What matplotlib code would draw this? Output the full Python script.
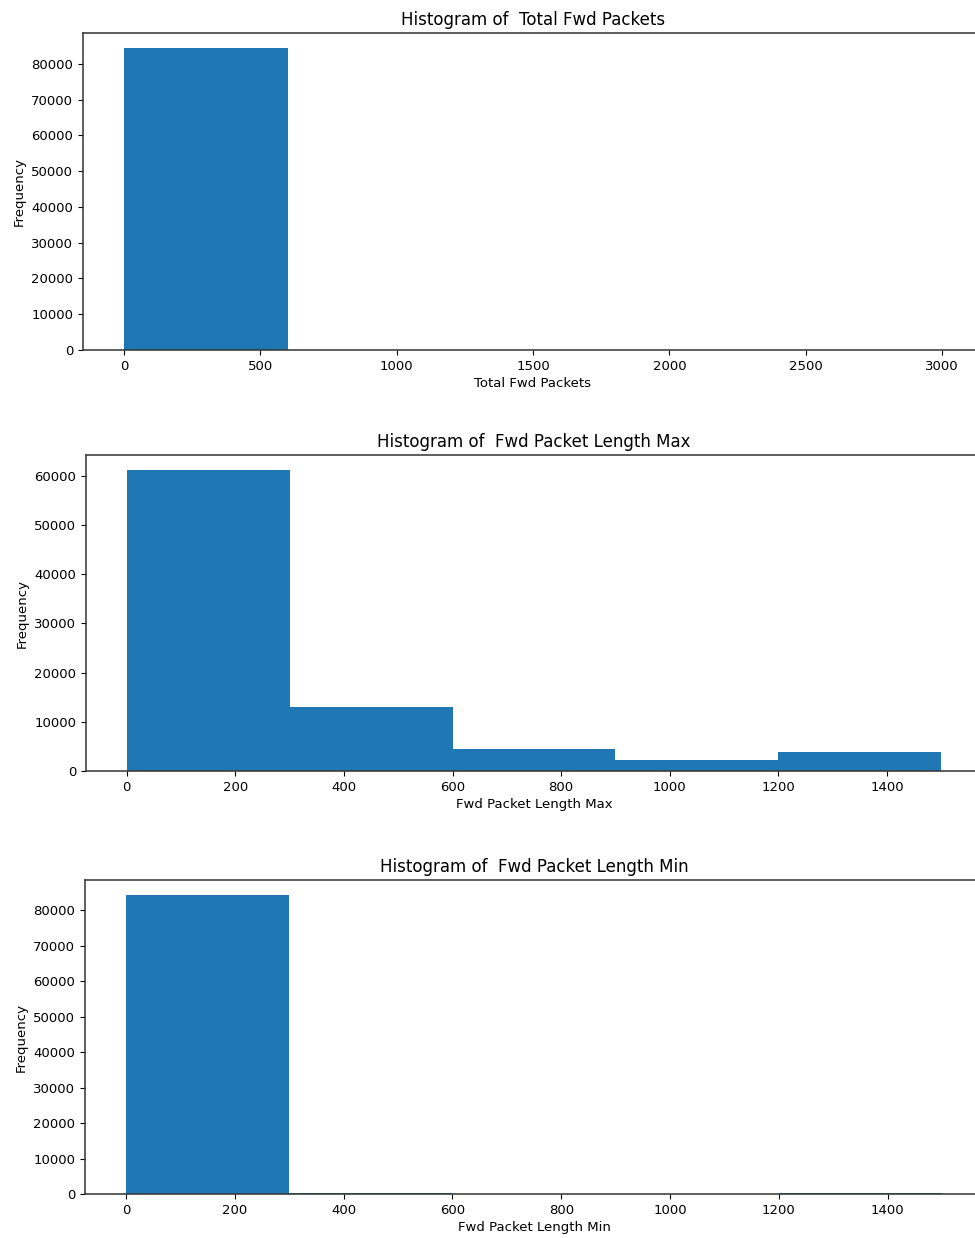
import matplotlib
matplotlib.use("Agg")
import matplotlib.pyplot as plt

# Bin edges and counts for each feature
total_fwd_edges = [0, 600, 1200, 1800, 2400, 3000]
total_fwd_counts = [84400, 40, 10, 4, 3]

fwd_max_edges = [0, 300, 600, 900, 1200, 1500]
fwd_max_counts = [61200, 13050, 4400, 2250, 3900]

fwd_min_edges = [0, 300, 600, 900, 1200, 1500]
fwd_min_counts = [84250, 220, 90, 0, 200]

features = ["Total Fwd Packets", "Fwd Packet Length Max", "Fwd Packet Length Min"]

W, H = 975, 1238
fig = plt.figure(figsize=(W / 100, H / 100), dpi=100)

# axes boxes in pixels: left, top, right, bottom
boxes = [
    (83, 33, 983, 350),
    (86, 455, 982, 771),
    (85, 880, 983, 1194),
]
data = [
    (total_fwd_edges, total_fwd_counts),
    (fwd_max_edges, fwd_max_counts),
    (fwd_min_edges, fwd_min_counts),
]

for (l, t, r, b), (edges, counts), name in zip(boxes, data, features):
    ax = fig.add_axes([l / W, (H - b) / H, (r - l) / W, (b - t) / H])
    ax.hist(edges[:-1], bins=edges, weights=counts, color="#1f77b4")
    ax.set_title(f"Histogram of  {name}", fontsize=12, pad=6)
    ax.set_xlabel(name, fontsize=9.5, labelpad=3)
    ax.set_ylabel("Frequency", fontsize=9.5)
    ax.tick_params(labelsize=9.5)
    for s in ax.spines.values():
        s.set_color("#333333")
        s.set_linewidth(1.1)

fig.savefig("out.png", dpi=100)
